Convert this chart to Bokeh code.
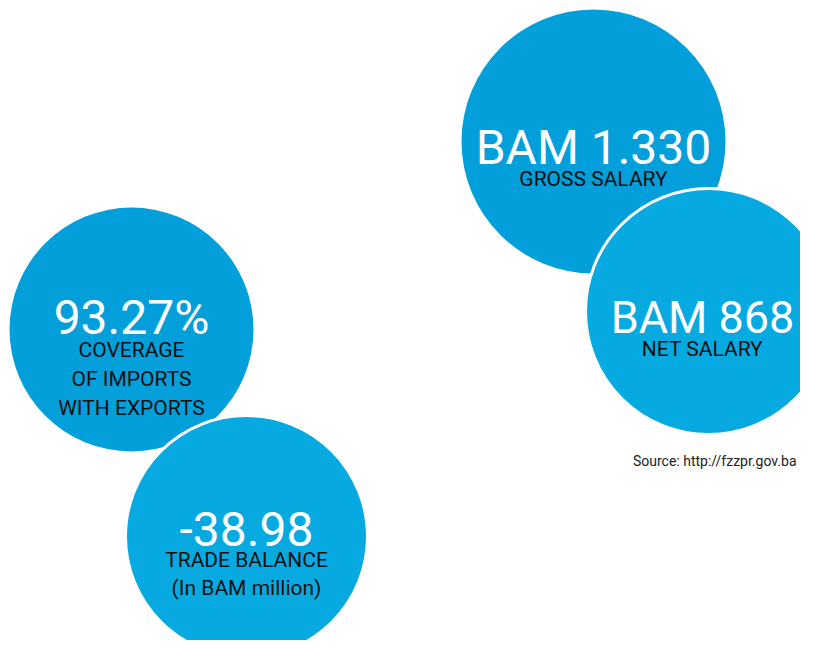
from bokeh.plotting import figure
from bokeh.models import Range1d, ColumnDataSource
from bokeh.core.properties import value
from bokeh.embed import file_html
from bokeh.resources import INLINE

# ---- data ----
big_values = ["BAM 1.330", "BAM 868", "93.27%", "-38.98"]
captions = [["GROSS SALARY"], ["NET SALARY"],
            ["COVERAGE", "OF IMPORTS", "WITH EXPORTS"],
            ["TRADE BALANCE", "(In BAM million)"]]
source_note = "Source: http://fzzpr.gov.ba"

# ---- layout (screen-like coordinates) ----
cx = [593, 708, 131, 246]
cy = [141, 311, 329, 536]
rad = [132, 123, 122, 121]
fills = ["#039FDB", "#06AAE1", "#039FDB", "#06AAE1"]
outline = [None, "white", None, "white"]
text_x = [593, 702, 131, 246]
big_base = [147, 317, 317, 528]
cap_base = [[178], [348], [349, 378, 407], [559, 587]]
big_size = ["48px", "45px", "48px", "48px"]

W, H = 800, 640
p = figure(width=W, height=H, output_backend="svg", toolbar_location=None,
           x_range=Range1d(0, W), y_range=Range1d(H, 0),
           min_border=0)
p.axis.visible = False
p.grid.visible = False
p.outline_line_color = None
p.background_fill_color = "white"
p.border_fill_color = "white"

font = value("Roboto")

for i in range(4):
    src = ColumnDataSource(dict(x=[cx[i]], y=[cy[i]], r=[rad[i]]))
    if outline[i]:
        p.circle("x", "y", radius="r", source=src, fill_color=fills[i],
                 line_color=outline[i], line_width=3)
    else:
        p.circle("x", "y", radius="r", source=src, fill_color=fills[i],
                 line_color=None)
    p.text(x=[text_x[i]], y=[big_base[i]], text=[big_values[i]],
           text_font=font, text_font_size=big_size[i], text_color="white",
           text_align="center", text_baseline="alphabetic")
    p.text(x=[text_x[i]] * len(captions[i]), y=cap_base[i], text=captions[i],
           text_font=font, text_font_size="21px", text_color="#111111",
           text_align="center", text_baseline="alphabetic")

p.text(x=[796], y=[460], text=[source_note],
       text_font=value("Roboto"),
       text_font_size="14px", text_color="#222222",
       text_align="right", text_baseline="alphabetic")

open("out.html", "w").write(file_html(p, INLINE))
